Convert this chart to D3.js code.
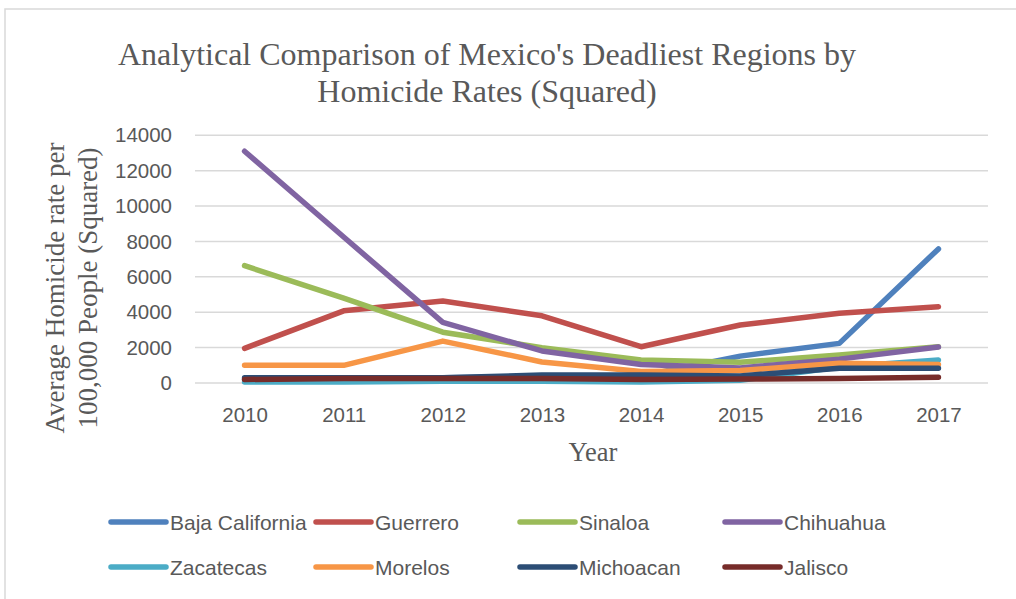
<!DOCTYPE html>
<html><head><meta charset="utf-8">
<script src="https://cdn.jsdelivr.net/npm/d3@7"></script>
<style>body{margin:0;background:#fff;} svg{display:block;}</style>
</head><body><svg id="c" width="1016" height="599"></svg>
<script>
const years = ["2010","2011","2012","2013","2014","2015","2016","2017"];
const bajaCalifornia = [200, 300, 300, 350, 400, 1520, 2240, 7580];
const guerrero = [1960, 4080, 4630, 3800, 2050, 3280, 3940, 4310];
const sinaloa = [6630, 4800, 2870, 2000, 1300, 1170, 1580, 2050];
const chihuahua = [13100, 8250, 3430, 1810, 1050, 850, 1350, 2030];
const zacatecas = [50, 50, 100, 100, 50, 150, 900, 1300];
const morelos = [1000, 1000, 2370, 1190, 650, 700, 1110, 1050];
const michoacan = [300, 300, 300, 450, 450, 400, 830, 830];
const jalisco = [200, 250, 260, 250, 200, 220, 260, 320];
const yTicks = [0, 2000, 4000, 6000, 8000, 10000, 12000, 14000];
const seriesNames = ["Baja California","Guerrero","Sinaloa","Chihuahua","Zacatecas","Morelos","Michoacan","Jalisco"];
const seriesValues = [bajaCalifornia, guerrero, sinaloa, chihuahua, zacatecas, morelos, michoacan, jalisco];
const colors = ["#4F81BD","#C0504D","#9BBB59","#8064A2","#4BACC6","#F79646","#2C4D75","#772C2A"];

const svg = d3.select("#c");
svg.append("rect").attr("x",5).attr("y",9).attr("width",1100).attr("height",700)
  .attr("fill","#fff").attr("stroke","#d9d9d9").attr("stroke-width",1.5);

const pLeft=195, pRight=988, pTop=135.3, pBottom=383;
const x = d3.scalePoint().domain(years).range([pLeft, pRight]).padding(0.5);
const y = d3.scaleLinear().domain([0,14000]).range([pBottom, pTop]);

svg.append("g").selectAll("line").data(yTicks).join("line")
  .attr("x1",pLeft).attr("x2",pRight).attr("y1",d=>y(d)).attr("y2",d=>y(d))
  .attr("stroke","#d9d9d9").attr("stroke-width",1.5);

const sans = "Liberation Sans, Arial, sans-serif";
const serif = "Liberation Serif, Times New Roman, serif";

const yAxis = svg.append("g").attr("transform",`translate(${pLeft},0)`)
  .call(d3.axisLeft(y).tickValues(yTicks).tickSize(0).tickPadding(23).tickFormat(d3.format("d")));
yAxis.select(".domain").remove();
yAxis.selectAll("text").attr("font-family",sans).attr("font-size",20.5).attr("fill","#595959");

const xAxis = svg.append("g").attr("transform",`translate(0,${pBottom})`)
  .call(d3.axisBottom(x).tickSize(0).tickPadding(24));
xAxis.select(".domain").remove();
xAxis.selectAll("text").attr("font-family",sans).attr("font-size",20.5).attr("fill","#595959");

const line = d3.line().x((d,i)=>x(years[i])).y(d=>y(d));
seriesValues.forEach((vals,k)=>{
  svg.append("path").datum(vals).attr("d",line).attr("fill","none")
    .attr("stroke",colors[k]).attr("stroke-width",5.5).attr("stroke-linecap","round").attr("stroke-linejoin","round");
});

const title = svg.append("text").attr("text-anchor","middle").attr("font-family",serif)
  .attr("font-size",32).attr("fill","#595959");
title.append("tspan").attr("x",487).attr("y",65).text("Analytical Comparison of Mexico's Deadliest Regions by");
title.append("tspan").attr("x",487).attr("y",102).text("Homicide Rates (Squared)");

const yt = svg.append("text").attr("text-anchor","middle").attr("font-family",serif)
  .attr("font-size",27).attr("fill","#595959").attr("transform","translate(0,288) rotate(-90)");
yt.append("tspan").attr("x",0).attr("y",64).text("Average Homicide rate per");
yt.append("tspan").attr("x",0).attr("y",97).text("100,000 People (Squared)");

svg.append("text").attr("x",593).attr("y",461).attr("text-anchor","middle")
  .attr("font-family",serif).attr("font-size",26.5).attr("fill","#595959").text("Year");

const legX = [111, 316, 520, 725];
const legY = [522, 567];
seriesNames.forEach((n,k)=>{
  const lx = legX[k%4], ly = legY[Math.floor(k/4)];
  svg.append("line").attr("x1",lx).attr("x2",lx+55).attr("y1",ly).attr("y2",ly)
    .attr("stroke",colors[k]).attr("stroke-width",5.5).attr("stroke-linecap","round");
  svg.append("text").attr("x",lx+59).attr("y",ly+8).attr("font-family",sans)
    .attr("font-size",21).attr("fill","#595959").text(n);
});
</script></body></html>
